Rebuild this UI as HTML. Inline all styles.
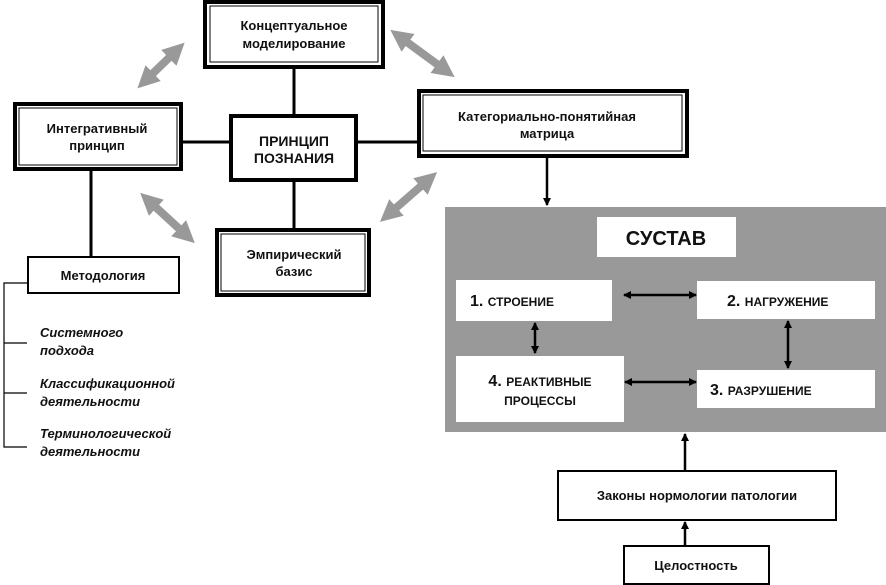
<!DOCTYPE html>
<html><head><meta charset="utf-8"><style>
body{margin:0;background:#fff}
svg{display:block}
text{font-family:"Liberation Sans",sans-serif;font-weight:bold;fill:#111}
</style></head><body>
<svg width="886" height="585" viewBox="0 0 886 585" xmlns="http://www.w3.org/2000/svg">
<defs>
<marker id="ah" markerWidth="8" markerHeight="8" refX="7" refY="4" orient="auto-start-reverse" markerUnits="userSpaceOnUse"><path d="M0,0 L8,4 L0,8 z" fill="#000"/></marker>
<marker id="gh" markerWidth="22" markerHeight="22" refX="10" refY="11" orient="auto-start-reverse" markerUnits="userSpaceOnUse"><path d="M0,0 L22,11 L0,22 z" fill="#999"/></marker>
</defs>
<g stroke="#000" stroke-width="3">
<line x1="294" y1="69" x2="294" y2="114"/>
<line x1="294" y1="182" x2="294" y2="228"/>
<line x1="183" y1="142" x2="229" y2="142"/>
<line x1="358" y1="142" x2="417" y2="142"/>
<line x1="91" y1="171" x2="91" y2="256"/>
</g>
<g stroke="#000" stroke-width="1.2" fill="none">
<polyline points="27,283 4,283 4,447 27,447"/>
<line x1="4" y1="343" x2="27" y2="343"/>
<line x1="4" y1="393" x2="27" y2="393"/>
</g>
<g stroke="#999" stroke-width="8">
<line x1="146" y1="80" x2="176" y2="51" marker-start="url(#gh)" marker-end="url(#gh)"/>
<line x1="149" y1="201" x2="186" y2="235" marker-start="url(#gh)" marker-end="url(#gh)"/>
<line x1="400" y1="37" x2="445" y2="70" marker-start="url(#gh)" marker-end="url(#gh)"/>
<line x1="389" y1="214" x2="428" y2="180" marker-start="url(#gh)" marker-end="url(#gh)"/>
</g>
<rect x="205" y="2" width="178" height="65" fill="#fff" stroke="#000" stroke-width="4"/>
<rect x="210" y="6" width="168" height="56" fill="none" stroke="#000" stroke-width="1"/>
<text x="294" y="30" text-anchor="middle" font-size="13">Концептуальное</text>
<text x="294" y="48" text-anchor="middle" font-size="13">моделирование</text>

<rect x="15" y="104" width="166" height="65" fill="#fff" stroke="#000" stroke-width="4"/>
<rect x="19" y="108" width="158" height="57" fill="none" stroke="#000" stroke-width="1"/>
<text x="97" y="133" text-anchor="middle" font-size="13">Интегративный</text>
<text x="97" y="150" text-anchor="middle" font-size="13">принцип</text>

<rect x="231" y="116" width="125" height="64" fill="#fff" stroke="#000" stroke-width="4"/>
<text x="294" y="146" text-anchor="middle" font-size="14">ПРИНЦИП</text>
<text x="294" y="163" text-anchor="middle" font-size="14">ПОЗНАНИЯ</text>

<rect x="419" y="91" width="268" height="65" fill="#fff" stroke="#000" stroke-width="4"/>
<rect x="423" y="95" width="259" height="56" fill="none" stroke="#000" stroke-width="1"/>
<text x="547" y="121" text-anchor="middle" font-size="13">Категориально-понятийная</text>
<text x="547" y="138" text-anchor="middle" font-size="13">матрица</text>

<rect x="217" y="230" width="152" height="65" fill="#fff" stroke="#000" stroke-width="4"/>
<rect x="221" y="234" width="144" height="57" fill="none" stroke="#000" stroke-width="1"/>
<text x="294" y="259" text-anchor="middle" font-size="13">Эмпирический</text>
<text x="294" y="276" text-anchor="middle" font-size="13">базис</text>

<rect x="28" y="257" width="151" height="36" fill="#fff" stroke="#000" stroke-width="2"/>
<text x="103" y="280" text-anchor="middle" font-size="13">Методология</text>

<g font-style="italic" font-size="13">
<text x="40" y="337">Системного</text>
<text x="40" y="355">подхода</text>
<text x="40" y="388">Классификационной</text>
<text x="40" y="406">деятельности</text>
<text x="40" y="438">Терминологической</text>
<text x="40" y="456">деятельности</text>
</g>

<line x1="547" y1="158" x2="547" y2="205" stroke="#000" stroke-width="2.5" marker-end="url(#ah)"/>

<rect x="445" y="207" width="441" height="225" fill="#999"/>
<rect x="597" y="217" width="139" height="40" fill="#fff"/>
<text x="666" y="245" text-anchor="middle" font-size="20">СУСТАВ</text>
<rect x="456" y="280" width="156" height="41" fill="#fff"/>
<text x="470" y="306" font-size="16">1. <tspan font-size="12">СТРОЕНИЕ</tspan></text>
<rect x="697" y="281" width="178" height="38" fill="#fff"/>
<text x="727" y="306" font-size="16">2. <tspan font-size="12">НАГРУЖЕНИЕ</tspan></text>
<rect x="456" y="356" width="168" height="66" fill="#fff"/>
<text x="540" y="386" text-anchor="middle" font-size="16">4. <tspan font-size="12">РЕАКТИВНЫЕ</tspan></text>
<text x="540" y="405" text-anchor="middle" font-size="12">ПРОЦЕССЫ</text>
<rect x="697" y="370" width="178" height="38" fill="#fff"/>
<text x="710" y="395" font-size="16">3. <tspan font-size="12">РАЗРУШЕНИЕ</tspan></text>
<g stroke="#000" stroke-width="2.5">
<line x1="624" y1="295" x2="696" y2="295" marker-start="url(#ah)" marker-end="url(#ah)"/>
<line x1="625" y1="382" x2="696" y2="382" marker-start="url(#ah)" marker-end="url(#ah)"/>
<line x1="535" y1="323" x2="535" y2="353" marker-start="url(#ah)" marker-end="url(#ah)"/>
<line x1="788" y1="321" x2="788" y2="368" marker-start="url(#ah)" marker-end="url(#ah)"/>
<line x1="685" y1="470" x2="685" y2="434" marker-end="url(#ah)"/>
<line x1="685" y1="545" x2="685" y2="522" marker-end="url(#ah)"/>
</g>
<rect x="558" y="471" width="278" height="49" fill="#fff" stroke="#000" stroke-width="2"/>
<text x="697" y="500" text-anchor="middle" font-size="13">Законы нормологии патологии</text>
<rect x="624" y="546" width="145" height="38" fill="#fff" stroke="#000" stroke-width="2"/>
<text x="696" y="570" text-anchor="middle" font-size="13">Целостность</text>
</svg>
</body></html>
